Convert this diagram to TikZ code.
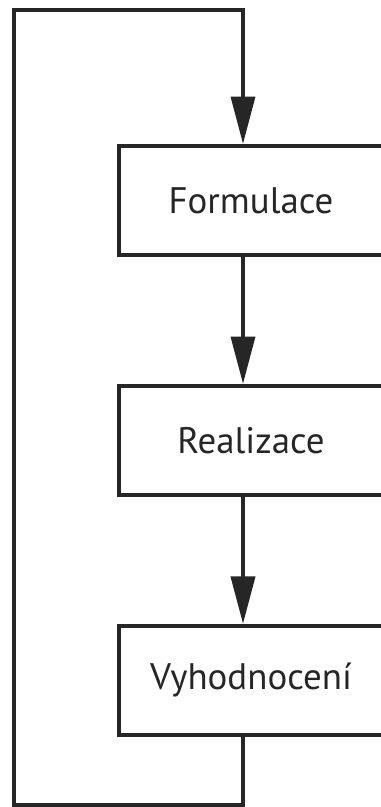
\documentclass[tikz,border=0pt]{standalone}
\usepackage{fontspec}
\setmainfont{PT Sans}
\usetikzlibrary{arrows.meta, positioning}
\tikzset{
	stage/.style={draw, rectangle, line width=2.27pt, minimum width=5.28cm, minimum height=2.18cm, font=\fontsize{21}{24}\selectfont},
	flow/.style={line width=2.27pt, -{Triangle[length=27pt, width=13.6pt]}},
}

\begin{document}
\begin{tikzpicture}[x=0.02cm, y=-0.02cm, color=black!85, node distance=4.8cm]
			\useasboundingbox (0,0) rectangle (380,807);
			
			\node (formulace) [stage] at (251,200.5) {Formulace};
			\node (realizace) [stage, below of=formulace] {Realizace};
			\node (vyhodnoceni) [stage, below of=realizace] {Vyhodnocení};
			
			% feedback loop corners
			\coordinate (top) at (243,10);
			\coordinate (bottom) at (243,805);
			\coordinate (topleft) at (14,10);
			\coordinate (bottomleft) at (14,805);
			
			\begin{scope}[flow, line join=miter]
				\draw (formulace.south -| top) -- (realizace.north -| top);
				\draw (realizace.south -| top) -- (vyhodnoceni.north -| top);
				\draw (vyhodnoceni.south -| bottom) -- (bottom) -- (bottomleft) -- (topleft) -- (top) -- (formulace.north -| top);
			\end{scope}
		\end{tikzpicture}
\end{document}
